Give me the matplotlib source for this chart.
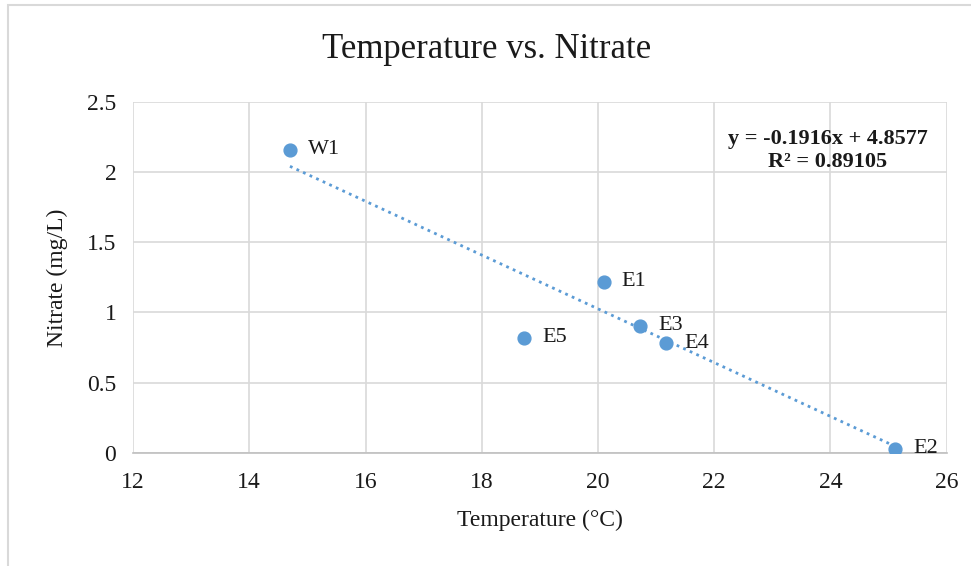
import numpy as np
import matplotlib.pyplot as plt
from matplotlib.patches import Rectangle

plt.rcParams['font.family'] = ['Liberation Serif', 'DejaVu Serif']

# Site data
sites = ['W1', 'E1', 'E3', 'E4', 'E5', 'E2']
temperature = [14.7, 20.1, 20.72, 21.17, 18.73, 25.11]
nitrate = [2.16, 1.22, 0.905, 0.78, 0.82, 0.03]

# Linear trendline shown on the chart
slope = -0.1916
intercept = 4.8577
r_squared = 0.89105

fig = plt.figure(figsize=(9.71, 5.66), dpi=100)
ax = fig.add_axes([0.137, 0.200, 0.838, 0.620])

# light outer frame of the pasted chart
fig.patches.append(Rectangle((8 / 971, -0.05), 1.0, 1.05 - 5 / 566,
                             transform=fig.transFigure, fill=False,
                             edgecolor='#d9d9d9', linewidth=1.5))

blue = '#5b9bd5'
ax.scatter(temperature, nitrate, s=85, color=blue, zorder=3)

# dotted trendline across the data range
tx = np.array([min(temperature), max(temperature)])
ax.plot(tx, slope * tx + intercept, linestyle=(0, (1, 1.6)), color=blue,
        linewidth=2, zorder=2)

for name, x, y in zip(sites, temperature, nitrate):
    ax.annotate(name, (x, y), xytext=(13, 0), textcoords='offset points',
                fontsize=16, va='center', ha='left', color='#1a1a1a')

ax.text(23.95, 2.155, f'y = {slope}x + {intercept}\nR² = {r_squared}',
        fontsize=16, fontweight='bold', ha='center', va='center',
        linespacing=1.2, color='#1a1a1a')

ax.set_xlim(12, 26)
ax.set_ylim(0, 2.5)
ax.set_xticks(np.arange(12, 27, 2))
ax.set_yticks([0, 0.5, 1, 1.5, 2, 2.5])
ax.set_yticklabels(['0', '0.5', '1', '1.5', '2', '2.5'])
ax.grid(True, color='#d9d9d9', linewidth=1.2)
ax.set_axisbelow(True)
for side in ['top', 'right', 'left']:
    ax.spines[side].set_visible(False)
ax.spines['bottom'].set_color('#bfbfbf')
ax.spines['bottom'].set_linewidth(1.2)
ax.tick_params(axis='x', length=0, labelsize=17, colors='#1a1a1a', pad=14)
ax.tick_params(axis='y', length=0, labelsize=17, colors='#1a1a1a', pad=12)

fig.text(487 / 971, 1 - 50 / 566, 'Temperature vs. Nitrate', fontsize=25,
         ha='center', va='center', color='#1a1a1a')
ax.set_xlabel('Temperature (°C)', fontsize=17, labelpad=12, color='#1a1a1a')
ax.set_ylabel('Nitrate (mg/L)', fontsize=17, labelpad=14, color='#1a1a1a')

fig.savefig('out.png', dpi=100)
